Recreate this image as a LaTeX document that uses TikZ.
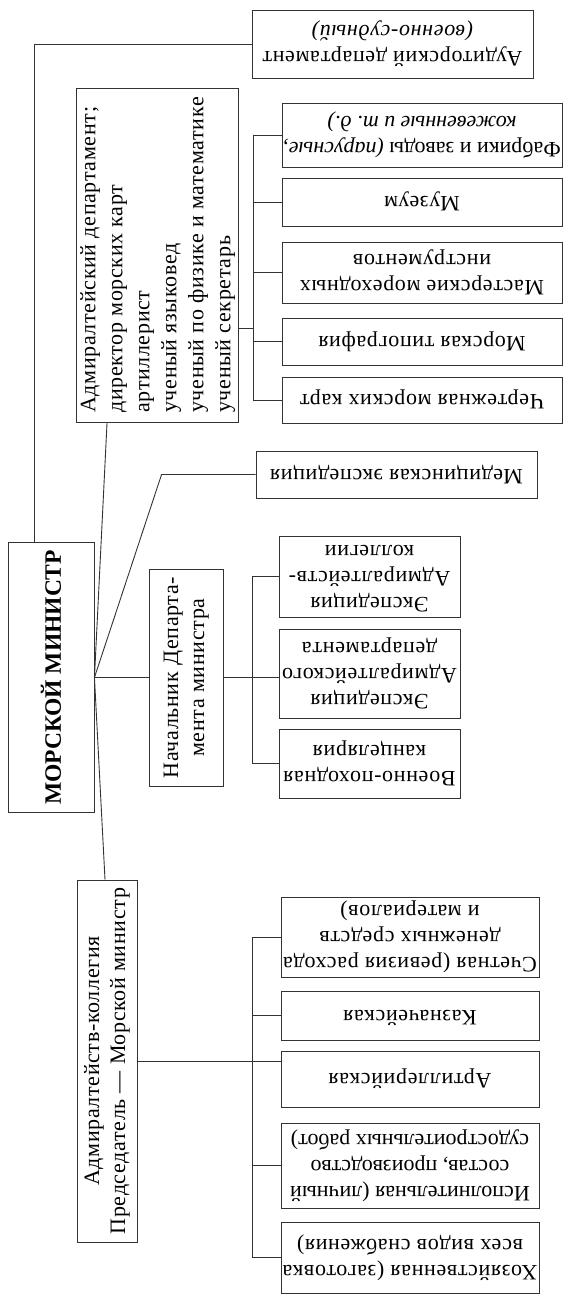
\documentclass[tikz,border=0pt]{standalone}
\usepackage{fontspec}
\setmainfont{Liberation Serif}
\newfontfamily\spacedfont[LetterSpace=3]{Liberation Serif}
\usepackage{graphicx}
\usetikzlibrary{calc}
\newcommand{\rtext}[3]{\rotatebox{#1}{\begin{tabular}{@{}#2@{}}#3\end{tabular}}}
\begin{document}
\begin{tikzpicture}[x=1pt,y=-1pt,
  box/.style={draw=black!80, line width=0.9pt, inner sep=0pt, font=\spacedfont\fontsize{22}{26}\selectfont},
  tight/.style={font=\rmfamily\fontsize{22}{26}\selectfont},
  conn/.style={draw=black!80, line width=0.9pt}]
\useasboundingbox (0,0) rectangle (563,1295);

\node[box, minimum width=86, minimum height=270] (main) at (51,677.5)
  {\rotatebox{90}{\rmfamily\fontsize{23.5}{28}\selectfont\bfseries МОРСКОЙ МИНИСТР}};

\node[box, minimum width=281, minimum height=68] (aud) at (392.5,44)
  {\rtext{180}{c}{Аудиторский департамент\\\itshape(военно-судный)}};

\node[box, minimum width=161, minimum height=334, font=\spacedfont\fontsize{22}{27}\selectfont] (adm) at (157.5,255)
  {\rtext{90}{l}{Адмиралтейский департамент;\\директор морских карт\\артиллерист\\ученый языковед\\ученый по физике и математике\\ученый секретарь}};

\node[box, tight, minimum width=280, minimum height=64] (fab) at (422,135)
  {\rtext{180}{c}{Фабрики и заводы \textit{(парусные,}\\\textit{кожевенные и~т.~д.)}}};
\node[box, minimum width=280, minimum height=48] (muz) at (422,202)
  {\rtext{180}{c}{Музеум}};
\node[box, minimum width=280, minimum height=61] (mast) at (422,272.5)
  {\rtext{180}{c}{Мастерские мореходных\\инструментов}};
\node[box, minimum width=280, minimum height=47] (tip) at (422,341.5)
  {\rtext{180}{c}{Морская типография}};
\node[box, minimum width=280, minimum height=46] (cher) at (422,400)
  {\rtext{180}{c}{Чертежная морских карт}};

\node[box, minimum width=281, minimum height=47] (med) at (396.5,474.5)
  {\rtext{180}{c}{Медицинская экспедиция}};

\node[box, minimum width=74, minimum height=217] (nach) at (186,677.5)
  {\rtext{90}{c}{Начальник Департа-\\мента министра}};
\node[box, minimum width=181, minimum height=81] (ek1) at (369.5,576.5)
  {\rtext{180}{c}{Экспедиция\\Адмиралтейств-\\коллегии}};
\node[box, minimum width=181, minimum height=89] (ek2) at (369.5,673.5)
  {\rtext{180}{c}{Экспедиция\\Адмиралтейского\\департамента}};
\node[box, minimum width=181, minimum height=69] (voen) at (369.5,763.5)
  {\rtext{180}{c}{Военно-походная\\канцелярия}};

\node[box, minimum width=60, minimum height=362] (ak) at (107,1061)
  {\rtext{90}{c}{Адмиралтейств-коллегия\\Председатель — Морской министр}};
\node[box, minimum width=258, minimum height=80] (sch) at (410,937)
  {\rtext{180}{c}{Счетная (ревизия расхода\\денежных средств\\и материалов)}};
\node[box, minimum width=258, minimum height=49] (kaz) at (410,1015.5)
  {\rtext{180}{c}{Казначейская}};
\node[box, minimum width=258, minimum height=56] (art) at (410,1079)
  {\rtext{180}{c}{Артиллерийская}};
\node[box, tight, minimum width=258, minimum height=85] (isp) at (410,1165.5)
  {\rtext{180}{c}{Исполнительная (личный\\состав, производство\\судостроительных работ)}};
\node[box, minimum width=258, minimum height=71] (hoz) at (410,1257.5)
  {\rtext{180}{c}{Хозяйственная (заготовка\\всех видов снабжения)}};

% main connectors
\draw[conn] ($(main.north west)+(27,0)$) |- (aud.west);
\draw[conn] (main.east) -- ($(adm.south west)+(31,0)$);
\draw[conn] (main.east) -- ($(med.west)+(-94,0)$) -- (med.west);
\draw[conn] (main.east) -- (nach.west);
\draw[conn] (main.east) -- ($(ak.north)+(-2,0)$);

% admiralty department bracket
\coordinate (admB) at (253,328);
\draw[conn] (adm.east |- admB) -- (admB);
\draw[conn] (fab.west) -- (fab.west -| admB) -- (cher.west -| admB) -- (cher.west);
\foreach \n in {muz,mast,tip} \draw[conn] (\n.west) -- (\n.west -| admB);

% department head bracket
\coordinate (nB) at (252,677.5);
\draw[conn] (nach.east) -- (nach.east -| ek2.west);
\draw[conn] (ek1.west) -- (ek1.west -| nB) -- (voen.west -| nB) -- (voen.west);

% admiralty college bracket
\coordinate (aB) at (252,1061);
\draw[conn] (ak.east) -- (ak.east -| art.west);
\draw[conn] (sch.west) -- (sch.west -| aB) -- (hoz.west -| aB) -- (hoz.west);
\foreach \n in {kaz,isp} \draw[conn] (\n.west) -- (\n.west -| aB);
\end{tikzpicture}
\end{document}
